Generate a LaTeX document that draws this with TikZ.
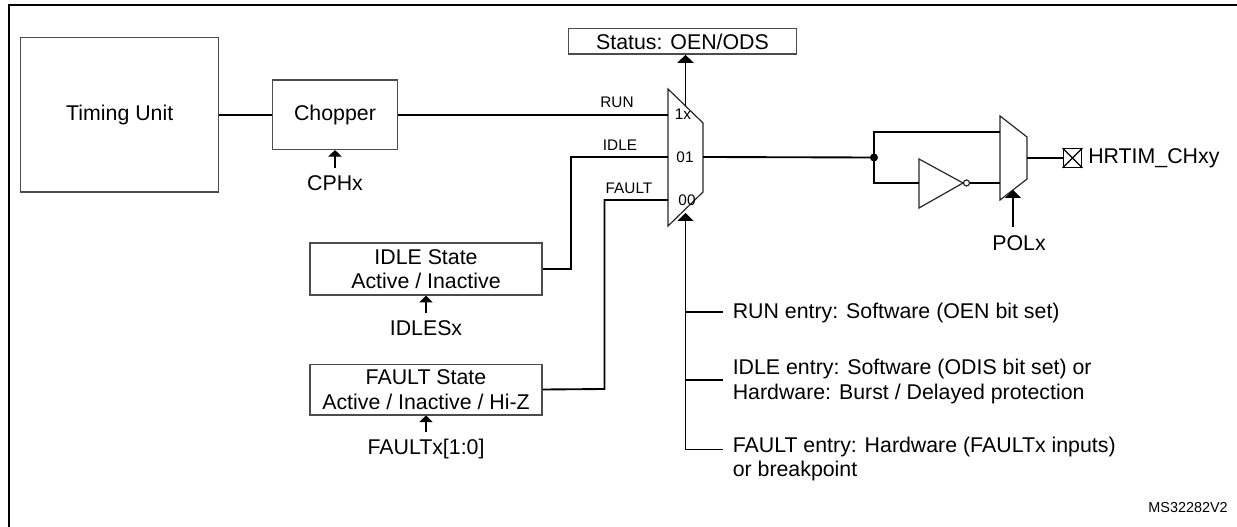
\documentclass[tikz,border=0pt]{standalone}
\usepackage{fontspec}
\setmainfont{Liberation Sans}
\usetikzlibrary{positioning, arrows.meta}
\tikzstyle{block} = [rectangle, draw=black!70, line width=1pt, text centered, inner sep=0pt, font=\fontsize{16}{18.5}\selectfont, align=center]
\tikzstyle{sigline} = [line width=1.4pt]
\tikzstyle{arrow} = [line width=1.4pt,-{Triangle[width=12pt,length=6pt]}]
\tikzstyle{smallarrow} = [line width=0.9pt,-{Triangle[width=10pt,length=5pt]}]
\tikzstyle{thinshape} = [line width=0.9pt, draw=black!85, line join=miter]
\tikzstyle{biglabel} = [inner sep=0pt, font=\fontsize{16}{18.5}\selectfont]
\tikzstyle{wirelabel} = [inner sep=0pt, font=\fontsize{11.5}{14}\selectfont]
\tikzstyle{entrylabel} = [inner sep=0pt, align=left, anchor=west, font=\fontsize{16}{18.7}\selectfont]

\begin{document}
\begin{tikzpicture}[x=0.75pt, y=-0.75pt]
	\useasboundingbox (0,0) rectangle (1237,527);
	\draw [line width=1.8pt] (9,527) -- (9,5) -- (1237,5);
	
	% left side blocks
	\node (timing) [block, minimum width=148.5pt, minimum height=116pt] at (119.7,114.7) {Timing Unit};
	\node (chopper) [block, minimum width=94pt, minimum height=52pt] at (335,114.7) {Chopper};
	\node (idle) [block, minimum width=174pt, minimum height=39pt] at (426,269) {IDLE State\\Active / Inactive};
	\node (fault) [block, minimum width=174pt, minimum height=38pt] at (426,389.5) {FAULT State\\Active / Inactive / Hi-Z};
	\node (status) [block, minimum width=171pt, minimum height=19pt] at (682.5,41.5) {Status: OEN/ODS};
	
	\node (cphx) [biglabel] at (335,183) {CPHx};
	\node (idlesx) [biglabel] at (426,328) {IDLESx};
	\node (faultx) [biglabel] at (426,449) {FAULTx[1:0]};
	
	\draw [sigline] (timing) -- (chopper);
	\draw [smallarrow] (cphx.north) ++(0,-7) coordinate (cphxtop) (cphxtop) -- (chopper.south -| cphxtop);
	\draw [smallarrow] (idlesx.north) ++(0,-7) coordinate (idlestop) (idlestop) -- (idle.south -| idlestop);
	\draw [smallarrow] (faultx.north) ++(0,-7) coordinate (faulttop) (faulttop) -- (fault.south -| faulttop);
	
	% output mux
	\draw [thinshape] (668,89) coordinate (muxa) -- (703,123) -- (703,192) -- (668,226) coordinate (muxb) -- cycle;
	\coordinate (muxrun) at (668,114.7);
	\coordinate (muxidle) at (668,157);
	\coordinate (muxfault) at (668,200);
	\coordinate (muxout) at (703,157);
	\node (inrun) [wirelabel] at (683,114.5) {1x};
	\node (inidle) [wirelabel] at (685,157) {01};
	\node (infault) [wirelabel] at (687,200) {00};
	\node (lblrun) [wirelabel] at (617,102) {RUN};
	\node (lblidle) [wirelabel] at (620,145) {IDLE};
	\node (lblfault) [wirelabel] at (629,188) {FAULT};
	
	\draw [sigline] (chopper) -- (muxrun);
	\draw [sigline] (idle.east) -- (571,269) -- (571,157) -- (muxidle);
	\draw [sigline] (fault.east) -- (604.5,389) -- (604.5,200) -- (muxfault);
	\coordinate (muxtop) at (685.5,106);
	\draw [arrow] (muxtop) -- (status.south -| muxtop);
	
	% mode entries
	\coordinate (muxsel) at (685.5,213);
	\coordinate (selbot) at (685.5,449.5);
	\node (entryrun) [entrylabel] at (732.5,313) {RUN entry: Software (OEN bit set)};
	\node (entryidle) [entrylabel] at (732.5,381.5) {IDLE entry: Software (ODIS bit set) or\\Hardware: Burst / Delayed protection};
	\node (entryfault) [entrylabel] at (732.5,459) {FAULT entry: Hardware (FAULTx inputs)\\or breakpoint};
	\draw [arrow] (selbot) -- (muxsel);
	\draw [sigline] (selbot) -- (722.5,449.5);
	\draw [sigline] (685.5,312) -- (722.5,312);
	\draw [sigline] (685.5,380) -- (722.5,380);
	
	% polarity stage
	\coordinate (dot) at (874,157.5);
	\fill (dot) circle (4);
	\draw [thinshape] (1000,116) coordinate (pola) -- (1027,137) -- (1027,179) -- (1000,200) coordinate (polb) -- cycle;
	\draw [thinshape] (919,159) -- (963,183) -- (919,208) -- cycle;
	\draw [thinshape] (966.5,183) circle (3);
	\draw [sigline] (muxout) -- (dot);
	\draw [sigline] (dot) -- (874,132) -- (1000,132);
	\draw [sigline] (dot) -- (874,183) -- (919,183);
	\draw [sigline] (969.5,183) -- (1000,183);
	
	\node (pad) [draw=black, line width=0.9pt, minimum size=14pt, inner sep=0pt] at (1072.5,158) {};
	\draw [line width=0.9pt] (pad.north west) -- (pad.south east) (pad.north east) -- (pad.south west);
	\draw [sigline] (1027,158) -- (pad);
	\node (chxy) [biglabel, anchor=west] at (1088,158) {HRTIM\_CHxy};
	\node (polx) [biglabel] at (1019,243) {POLx};
	\coordinate (poltop) at (1013,227);
	\draw [arrow] (poltop) -- (1013,190);
	
	\node (msref) [inner sep=0pt, anchor=east, font=\fontsize{10.8}{13}\selectfont] at (1228,508) {MS32282V2};
\end{tikzpicture}
\end{document}
